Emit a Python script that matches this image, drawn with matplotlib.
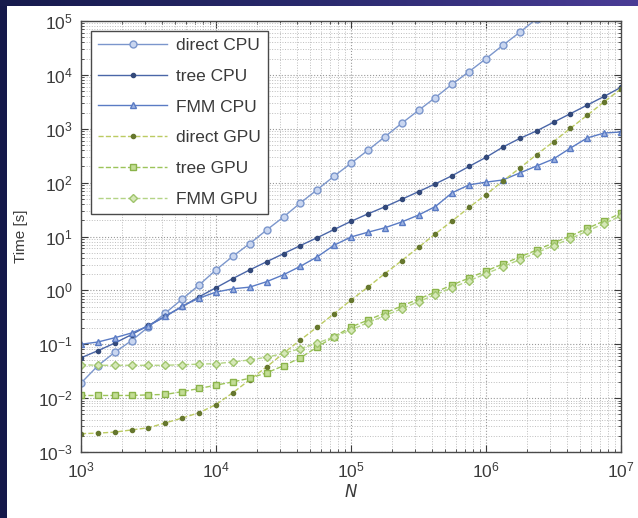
import numpy as np
import matplotlib
matplotlib.use("Agg")
import matplotlib.pyplot as plt
from matplotlib.patches import Rectangle
from matplotlib.colors import LinearSegmentedColormap

plt.rcParams['font.family'] = ['Liberation Sans', 'DejaVu Sans']

# problem sizes (8 samples per decade)
N = [1000, 1334, 1778, 2371, 3162, 4217, 5623, 7499,
     10000, 13335, 17783, 23714, 31623, 42170, 56234, 74989,
     100000, 133352, 177828, 237137, 316228, 421697, 562341, 749894,
     1000000, 1333521, 1778279, 2371374, 3162278, 4216965, 5623413, 7498942,
     10000000]

# run times in seconds
t_direct_cpu = [0.019, 0.040, 0.071, 0.117, 0.21, 0.38, 0.69, 1.26,
                2.4, 4.3, 7.4, 13.2, 23, 42, 74, 132,
                229, 398, 708, 1260, 2190, 3800, 6760, 11500,
                20000, 35500, 61700, 110000]
t_tree_cpu = [0.056, 0.076, 0.105, 0.151, 0.224, 0.33, 0.50, 0.76,
              1.12, 1.66, 2.4, 3.4, 4.8, 6.8, 9.5, 13.5,
              19.1, 26.3, 35.5, 49, 68, 95, 135, 200,
              295, 457, 661, 912, 1320, 1905, 2750, 3980,
              5890]
t_fmm_cpu = [0.100, 0.110, 0.132, 0.162, 0.219, 0.33, 0.51, 0.72,
             0.93, 1.07, 1.15, 1.45, 1.95, 2.8, 4.2, 6.9,
             9.8, 12.0, 14.5, 18.6, 25, 36, 65, 91,
             102, 112, 151, 204, 275, 437, 676, 832,
             871]
t_direct_gpu = [0.00219, 0.00224, 0.00234, 0.00257, 0.00282, 0.00347, 0.00427, 0.00537,
                0.0076, 0.0126, 0.0219, 0.038, 0.068, 0.120, 0.209, 0.37,
                0.66, 1.15, 2.04, 3.55, 6.3, 11.2, 19.5, 34.7,
                60, 107, 186, 331, 575, 1020, 1780, 3160,
                5500]
t_tree_gpu = [0.0112, 0.0112, 0.0112, 0.0112, 0.0115, 0.0117, 0.0132, 0.0151,
              0.0174, 0.0200, 0.0234, 0.0295, 0.0398, 0.056, 0.089, 0.138,
              0.209, 0.28, 0.38, 0.51, 0.69, 0.93, 1.26, 1.70,
              2.29, 3.09, 4.17, 5.6, 7.6, 10.2, 14.1, 19.5,
              26.9]
t_fmm_gpu = [0.0417, 0.0407, 0.0407, 0.0407, 0.0407, 0.0407, 0.0417, 0.0427,
             0.0437, 0.0468, 0.0513, 0.0575, 0.0676, 0.083, 0.105, 0.138,
             0.186, 0.251, 0.339, 0.457, 0.617, 0.83, 1.12, 1.51,
             2.04, 2.75, 3.72, 5.0, 6.8, 9.1, 12.6, 17.4,
             24.0]

fig = plt.figure(figsize=(6.38, 5.18), dpi=100)
fig.patch.set_facecolor('#14184a')

# slide header strip and white panel behind the plot
strip = fig.add_axes([0, 512 / 518, 1, 6 / 518], zorder=-2)
cmap = LinearSegmentedColormap.from_list('hdr', ['#161a4c', '#2a2a6e', '#4a3c96'])
strip.imshow(np.linspace(0, 1, 256)[None, :], aspect='auto', cmap=cmap,
             extent=[0, 1, 0, 1])
strip.axis('off')
fig.patches.append(Rectangle((7 / 638, 0), 1 - 7 / 638, 512 / 518,
                             transform=fig.transFigure, facecolor='white',
                             edgecolor='none', zorder=-1))

ax = fig.add_axes([81 / 638, 66 / 518, 540 / 638, 431 / 518])
ax.set_facecolor('white')

ax.loglog(N[:len(t_direct_cpu)], t_direct_cpu, ls='-', marker='o', color='#7b96cc',
          lw=1.0, ms=5, mfc='#c9d6f0', mec='#7b96cc', label='direct CPU')
ax.loglog(N, t_tree_cpu, ls='-', marker='.', color='#4a66a8', lw=1.0, ms=6,
          mec='#33497a', mfc='#33497a', label='tree CPU')
ax.loglog(N, t_fmm_cpu, ls='-', marker='^', color='#5a7bc4', lw=1.0, ms=5,
          mfc='#9fb4e2', mec='#5a7bc4', label='FMM CPU')
ax.loglog(N, t_direct_gpu, ls='--', marker='.', color='#bccb62', lw=1.0, ms=6,
          mec='#66772e', mfc='#66772e', label='direct GPU')
ax.loglog(N, t_tree_gpu, ls='--', marker='s', color='#9cc45a', lw=1.0, ms=4.5,
          mfc='#c3dd95', mec='#8ab34a', label='tree GPU')
ax.loglog(N, t_fmm_gpu, ls='--', marker='D', color='#b4d486', lw=1.0, ms=4.5,
          mfc='#d6e8b8', mec='#9fc46c', label='FMM GPU')

ax.set_xlim(1e3, 1e7)
ax.set_ylim(1e-3, 1e5)
ax.set_xticks([1e3, 1e4, 1e5, 1e6, 1e7])
ax.set_yticks([1e-3, 1e-2, 1e-1, 1e0, 1e1, 1e2, 1e3, 1e4, 1e5])

ax.grid(True, which='major', ls=':', color='#9a9a9a', lw=0.8)
ax.grid(True, which='minor', ls=':', color='#bdbdbd', lw=0.7)
ax.tick_params(which='both', direction='in', top=True, right=True,
               colors='#3a3a3a', labelcolor='#3a3a3a')
ax.tick_params(which='major', length=5, labelsize=12.5, pad=6)
ax.tick_params(which='minor', length=2.5)
for s in ax.spines.values():
    s.set_color('#4a4a4a')
    s.set_linewidth(1.0)

ax.set_xlabel('$N$', fontsize=12, color='#3a3a3a', labelpad=2)
ax.set_ylabel('Time [s]', fontsize=11, color='#3a3a3a', labelpad=7)

leg = ax.legend(loc='upper left', fontsize=12.5, handlelength=4.0,
                labelspacing=0.9, borderaxespad=0.57, handletextpad=0.5,
                fancybox=False, framealpha=1, edgecolor='#4a4a4a')
leg.get_frame().set_linewidth(1.0)
for t in leg.get_texts():
    t.set_color('#3a3a3a')

fig.savefig('out.png', dpi=100, facecolor=fig.get_facecolor())
